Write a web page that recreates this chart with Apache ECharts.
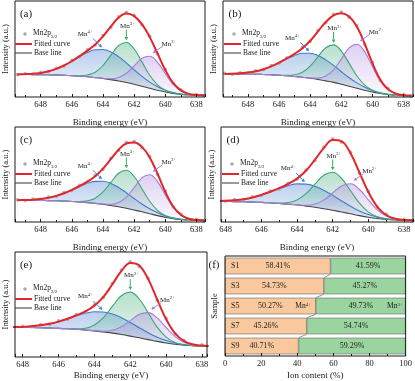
<!DOCTYPE html>
<html><head><meta charset="utf-8">
<script src="https://cdn.jsdelivr.net/npm/echarts@6/dist/echarts.min.js"></script>
<style>html,body{margin:0;padding:0;background:#fff}#c{width:415px;height:381px}</style>
</head><body><div id="c"></div>
<script>
// ---------- data ----------
const energy = [649.5,649,648.5,648,647.5,647,646.5,646,645.5,645,644.5,644,643.5,643,642.5,642,641.5,641,640.5,640,639.5,639,638.5,638,637.5];
const energyTicks = [648,646,644,642,640,638];

// (a)  components are heights above the base line
const baseA = [22.5,22.5,22.4,22.3,22.2,22.0,21.7,21.3,20.8,20.2,19.4,18.5,17.3,16.0,14.5,12.7,10.8,8.8,6.8,5.0,3.6,2.6,2.0,1.8,1.7];
const mn4A = [0.1,0.4,0.9,1.8,3.5,6.1,9.8,14.5,19.7,24.4,27.8,29,27.8,24.4,19.7,14.5,9.8,6.1,3.5,1.8,0.9,0.4,0.1,0,0];
const mn3A = [0,0,0,0,0,0,0,0.1,0.4,1.8,5.4,13,24.3,35.3,40,35.3,24.3,13,5.4,1.8,0.4,0.1,0,0,0];
const mn2A = [0,0,0,0,0,0,0,0,0,0,0,0.2,1.0,3.5,9.2,18.4,27.9,32,27.9,18.4,9.2,3.5,1.0,0.2,0];
const fitA = [22.6,22.9,23.3,24.1,25.7,28.1,31.5,35.9,40.9,46.4,52.6,60.7,70.4,79.2,83.4,80.9,72.8,59.9,43.6,27.0,14.1,6.6,3.1,2.0,1.7];
const dataA = [22.4,23.3,22.8,24.6,25.2,28.8,31.0,36.6,40.2,47.1,52.0,61.5,69.6,80.3,84.6,81.8,72.0,60.8,43.0,27.8,13.5,7.3,2.6,2.5,1.2];
// (b)
const baseB = [23,23,22.9,22.8,22.7,22.5,22.2,21.8,21.2,20.5,19.7,18.7,17.5,16.1,14.6,12.8,10.8,8.8,6.8,5.0,3.5,2.5,1.8,1.5,1.4];
const mn4B = [0.1,0.3,0.8,1.6,3.0,5.3,8.5,12.5,17.0,21.0,24.0,25,24.0,21.0,17.0,12.5,8.5,5.3,3.0,1.6,0.8,0.3,0.1,0,0];
const mn3B = [0,0,0,0,0,0,0,0.1,0.4,1.7,5.1,12.2,22.8,33.1,37.5,33.1,22.8,12.2,5.1,1.7,0.4,0.1,0,0,0];
const mn2B = [0,0,0,0,0,0,0,0,0,0,0,0.3,1.4,4.8,12.6,25.3,38.3,44,38.3,25.3,12.6,4.8,1.4,0.3,0];
const fitB = [23.1,23.3,23.7,24.4,25.7,27.8,30.7,34.4,38.6,43.2,48.8,56.2,65.7,75.0,81.7,83.7,80.4,70.3,53.2,33.6,17.3,7.7,3.3,1.8,1.4];
const dataB = [23.6,22.8,24.2,23.9,26.3,27.2,31.4,33.8,39.3,42.5,49.6,55.5,66.5,74.2,82.8,85.0,79.6,71.2,52.4,34.5,16.5,8.4,2.7,2.4,0.9];
// (c)
const baseC = [21.7,21.7,21.6,21.5,21.4,21.2,20.9,20.5,20.0,19.4,18.6,17.7,16.5,15.2,13.7,12.0,10.2,8.3,6.4,4.7,3.4,2.5,1.9,1.7,1.6];
const mn4C = [0.1,0.3,0.7,1.4,2.8,4.9,7.8,11.5,15.6,19.3,22.0,23,22.0,19.3,15.6,11.5,7.8,4.9,2.8,1.4,0.7,0.3,0.1,0,0];
const mn3C = [0,0,0,0,0,0,0,0.1,0.4,1.7,5.1,12.4,23.1,33.5,38,33.5,23.1,12.4,5.1,1.7,0.4,0.1,0,0,0];
const mn2C = [0,0,0,0,0,0,0,0,0,0,0,0.3,1.2,4.3,11.2,22.4,34.0,39,34.0,22.4,11.2,4.3,1.2,0.3,0];
const fitC = [21.8,22.0,22.3,22.9,24.2,26.1,28.7,32.1,36.0,40.4,45.7,53.4,62.8,72.3,78.5,79.4,75.1,64.6,48.3,30.2,15.7,7.2,3.2,2.0,1.6];
const dataC = [22.3,21.4,22.9,22.4,24.9,25.5,29.4,31.5,36.8,39.7,46.5,52.6,63.7,71.5,79.8,80.6,74.2,65.5,47.5,31.0,15.0,8.0,2.5,2.7,0.9];
// (d)
const baseD = [20.7,20.7,20.6,20.5,20.4,20.2,19.9,19.6,19.1,18.5,17.8,17.0,15.9,14.7,13.3,11.7,10.0,8.2,6.4,4.8,3.5,2.6,2.0,1.8,1.7];
const mn4D = [0,0.1,0.3,0.7,1.4,2.6,4.6,7.5,11.0,14.9,18.5,21.1,22,21.1,18.5,14.9,11.0,7.5,4.6,2.6,1.4,0.7,0.3,0.1,0];
const mn3D = [0,0,0,0,0,0,0,0,0.1,0.4,1.7,5.1,12.4,23.1,33.5,38,33.5,23.1,12.4,5.1,1.7,0.4,0.1,0,0];
const mn2D = [0,0,0,0,0,0,0,0,0,0,0,0.2,0.9,3.3,8.6,17.3,26.1,30,26.1,17.3,8.6,3.3,0.9,0.2,0];
const fitD = [20.7,20.8,20.9,21.2,21.8,22.8,24.5,27.1,30.2,33.8,38.0,43.4,51.2,62.2,73.9,81.9,80.6,68.8,49.5,29.8,15.2,7.0,3.3,2.1,1.7];
const dataD = [21.2,20.3,21.5,20.7,22.4,22.2,25.2,26.5,30.9,33.1,38.8,42.7,52.0,61.5,75.0,83.2,79.7,69.6,48.7,30.6,14.5,7.7,2.6,2.8,1.0];
// (e)
const baseE = [29.7,29.7,29.6,29.5,29.5,29.3,29.0,28.6,28.2,27.7,26.9,26.1,25.0,23.9,22.5,20.9,19.2,17.4,15.6,14.0,12.7,11.8,11.3,11.1,11.0];
const mn4E = [0,0.1,0.3,0.6,1.3,2.4,4.2,6.8,10.0,13.6,16.8,19.2,20,19.2,16.8,13.6,10.0,6.8,4.2,2.4,1.3,0.6,0.3,0.1,0];
const mn3E = [0,0,0,0,0,0,0,0,0.1,0.5,1.9,5.9,14.3,26.7,38.8,44,38.8,26.7,14.3,5.9,1.9,0.5,0.1,0,0];
const mn2E = [0,0,0,0,0,0,0,0,0,0,0,0.2,0.8,2.9,7.7,15.5,23.5,27,23.5,15.5,7.7,2.9,0.8,0.2,0];
const fitE = [29.7,29.8,29.9,30.1,30.8,31.7,33.2,35.4,38.3,41.8,45.6,51.4,60.1,72.7,85.8,94.0,91.5,77.9,57.6,37.8,23.6,15.8,12.5,11.4,11.0];
const dataE = [29.2,30.4,29.3,30.7,30.2,32.4,32.6,36.1,37.6,42.5,45.0,52.2,59.4,73.5,86.9,95.2,90.6,78.7,56.8,38.6,22.9,16.5,11.8,12.1,10.3];
// (f)
const samples = ['S1','S3','S5','S7','S9'];
const mn4Content = [58.41,54.73,50.27,45.26,40.71];
const mn3Content = [41.59,45.27,49.73,54.74,59.29];
const ionTicks = [0,20,40,60,80,100];

// ---------- styling ----------
const FONT = '"Liberation Serif","Times New Roman",serif';
const C = {fit:'#e3262b', base:'#454545', pts:'#ababab', ink:'#1a1a1a',
  comp:['#3f79cf','#3aa874','#a67ddc'], bar4:'#f9c89c', bar3:'#9ad5a0'};
const compNames = [['Mn','4+'],['Mn','3+'],['Mn','2+']];
const panels = [
  {g:{left:14,top:1,width:191,height:96}, xr:[637.45,649.65], ymax:96, base:baseA, comps:[mn4A,mn3A,mn2A], fit:fitA, pts:dataA, tag:'(a)', leg:33, gap:21},
  {g:{left:223,top:1,width:190,height:96}, xr:[637.4,649.6], ymax:96, base:baseB, comps:[mn4B,mn3B,mn2B], fit:fitB, pts:dataB, tag:'(b)', leg:33, gap:21},
  {g:{left:14,top:127,width:191,height:95}, xr:[637.45,649.65], ymax:95, base:baseC, comps:[mn4C,mn3C,mn2C], fit:fitC, pts:dataC, tag:'(c)', leg:37, gap:21},
  {g:{left:221,top:127,width:192,height:95}, xr:[637.5,648.26], ymax:95, base:baseD, comps:[mn4D,mn3D,mn2D], fit:fitD, pts:dataD, tag:'(d)', leg:37, gap:21},
  {g:{left:14,top:252,width:193,height:105}, xr:[637.72,648.43], ymax:105, base:baseE, comps:[mn4E,mn3E,mn2E], fit:fitE, pts:dataE, tag:'(e)', leg:37, gap:14}
];
function rgba(hex,a){const n=parseInt(hex.slice(1),16);return `rgba(${n>>16},${(n>>8)&255},${n&255},${a})`;}
function grad(hex){return new echarts.graphic.LinearGradient(0,0,0,1,[{offset:0,color:rgba(hex,0.36)},{offset:1,color:rgba(hex,0.04)}]);}

const grids=[], xAxes=[], yAxes=[], series=[];
panels.forEach((p,i)=>{
  grids.push(Object.assign({show:true,borderColor:C.ink,borderWidth:1,backgroundColor:'transparent',z:10,containLabel:false},p.g));
  xAxes.push({gridIndex:i,type:'value',min:p.xr[0],max:p.xr[1],inverse:true,z:10,splitNumber:5,
    name:'Binding energy (eV)',nameLocation:'middle',nameGap:p.gap,
    nameTextStyle:{fontFamily:FONT,fontSize:9,color:C.ink},
    axisLine:{show:false},splitLine:{show:false},
    axisTick:{show:true,inside:true,length:3,lineStyle:{color:C.ink}},
    minorTick:{show:true,splitNumber:2,length:2,lineStyle:{color:C.ink}},
    axisLabel:{margin:3,fontFamily:FONT,fontSize:8.5,color:C.ink,showMinLabel:false,showMaxLabel:false,
      formatter:v=>energyTicks.indexOf(Math.round(v*1000)/1000)>=0?String(Math.round(v)):''}});
  yAxes.push({gridIndex:i,type:'value',min:0,max:p.ymax,
    axisLine:{show:false},axisTick:{show:false},axisLabel:{show:false},splitLine:{show:false},
    name:'Intensity (a.u.)',nameLocation:'middle',nameGap:5,
    nameTextStyle:{fontFamily:FONT,fontSize:8.5,color:C.ink}});
  const ax={xAxisIndex:i,yAxisIndex:i,silent:true,animation:false};
  const xy = arr=>energy.map((x,k)=>[x,arr[k]]);
  const onBase = c=>energy.map((x,k)=>[x,+(p.base[k]+c[k]).toFixed(2)]);
  p.comps.forEach((c,j)=>{
    series.push(Object.assign({type:'line',data:onBase(c),smooth:0.4,symbol:'none',
      lineStyle:{width:0,opacity:0},areaStyle:{color:grad(C.comp[j]),opacity:1},z:1},ax));
  });
  series.push(Object.assign({type:'line',data:xy(p.base),smooth:0.4,symbol:'none',
    lineStyle:{width:0,opacity:0},areaStyle:{color:'#ffffff',opacity:1},z:2},ax));
  series.push(Object.assign({type:'line',data:xy(p.base),smooth:0.4,symbol:'none',
    lineStyle:{width:1.1,color:C.base},z:3},ax));
  p.comps.forEach((c,j)=>{
    series.push(Object.assign({type:'line',data:onBase(c),smooth:0.4,symbol:'none',
      lineStyle:{width:1.1,color:C.comp[j]},z:3},ax));
  });
  series.push(Object.assign({type:'scatter',data:xy(p.pts),symbol:'circle',symbolSize:3.6,
    itemStyle:{color:C.pts,opacity:0.9},z:4},ax));
  series.push(Object.assign({type:'line',data:xy(p.fit),smooth:0.4,symbol:'none',
    lineStyle:{width:2,color:C.fit},z:5},ax));
});

// ---- panel (f)
const fi = panels.length;
grids.push({left:225,top:256,width:182,height:100,show:true,borderColor:C.ink,borderWidth:1,backgroundColor:'transparent',z:10});
xAxes.push({gridIndex:fi,type:'value',min:0,max:100,interval:20,z:10,
  name:'Ion content (%)',nameLocation:'middle',nameGap:15,
  nameTextStyle:{fontFamily:FONT,fontSize:9,color:C.ink},
  axisLine:{show:false},splitLine:{show:false},
  axisTick:{show:true,inside:true,length:3,lineStyle:{color:C.ink}},
  minorTick:{show:true,splitNumber:2,length:2,lineStyle:{color:C.ink}},
  axisLabel:{margin:3,fontFamily:FONT,fontSize:8.5,color:C.ink,formatter:v=>ionTicks.indexOf(v)>=0?String(v):''}});
yAxes.push({gridIndex:fi,type:'category',data:samples,inverse:true,z:10,
  axisLine:{show:false},axisTick:{show:false},splitLine:{show:false},
  axisLabel:{inside:true,margin:6,fontFamily:FONT,fontSize:8,color:C.ink},
  name:'Sample',nameLocation:'middle',nameGap:6,nameTextStyle:{fontFamily:FONT,fontSize:8.5,color:C.ink}});
const barLabel = {show:true,position:'inside',fontFamily:FONT,fontSize:8,color:'#222',formatter:q=>q.value.toFixed(2)+'%'};
const GAPF = 0.17;
series.push({type:'bar',xAxisIndex:fi,yAxisIndex:fi,stack:'ion',data:mn4Content,barCategoryGap:(GAPF*100)+'%',
  itemStyle:{color:C.bar4,borderColor:'#6a6a6a',borderWidth:0.6},label:barLabel,silent:true,animation:false,z:2});
series.push({type:'bar',xAxisIndex:fi,yAxisIndex:fi,stack:'ion',data:mn3Content,barCategoryGap:(GAPF*100)+'%',
  itemStyle:{color:C.bar3,borderColor:'#6a6a6a',borderWidth:0.6},label:barLabel,silent:true,animation:false,z:2});

const chart = echarts.init(document.getElementById('c'));
chart.setOption({animation:false,grid:grids,xAxis:xAxes,yAxis:yAxes,series:series});

// ---------- annotations (legends, tags, arrows, connectors) ----------
const G=[];
function supText(base,sup,x,y,align,size){
  size=size||7;
  return {type:'text',x:x,y:y,z:100,silent:true,style:{text:`{m|${base}}{s|${sup}}`,align:align||'center',verticalAlign:'middle',
    rich:{m:{fontFamily:FONT,fontSize:size,fill:C.ink,verticalAlign:'bottom',lineHeight:size+1},
          s:{fontFamily:FONT,fontSize:size*0.65,fill:C.ink,verticalAlign:'top',lineHeight:size+1}}}};
}
function arrow(x1,y1,x2,y2,col){
  const dx=x2-x1,dy=y2-y1,L=Math.hypot(dx,dy),ux=dx/L,uy=dy/L,h=3.4,w=1.8;
  const bx=x2-ux*h,by=y2-uy*h;
  G.push({type:'line',z:100,silent:true,shape:{x1:x1,y1:y1,x2:bx,y2:by},style:{stroke:col,lineWidth:1}});
  G.push({type:'polygon',z:100,silent:true,shape:{points:[[x2,y2],[bx-uy*w,by+ux*w],[bx+uy*w,by-ux*w]]},style:{fill:col}});
}
const ann = [
  {t:[-18,-16],a0:[-10,-11],a1:[-1,-2]},
  {t:[1,-17],a0:[0,-13],a1:[0,-2]},
  {t:[19,-13],a0:[13,-10],a1:[3,-3]}
];
panels.forEach((p,i)=>{
  const L=p.g.left,T=p.g.top;
  G.push({type:'text',x:L+12,y:T+13,z:100,silent:true,style:{text:p.tag,fontFamily:FONT,fontSize:11,fill:C.ink,align:'center',verticalAlign:'middle'}});
  const ly=T+p.leg;
  G.push({type:'circle',z:100,silent:true,shape:{cx:L+11,cy:ly,r:1.8},style:{fill:C.pts}});
  G.push({type:'text',x:L+19,y:ly,z:100,silent:true,style:{text:'{m|Mn2p}{s|3/2}',align:'left',verticalAlign:'middle',
    rich:{m:{fontFamily:FONT,fontSize:7.5,fill:C.ink,verticalAlign:'top',lineHeight:10},s:{fontFamily:FONT,fontSize:5,fill:C.ink,verticalAlign:'bottom',lineHeight:10}}}});
  G.push({type:'line',z:100,silent:true,shape:{x1:L+1,y1:ly+10,x2:L+18,y2:ly+10},style:{stroke:C.fit,lineWidth:2}});
  G.push({type:'text',x:L+20,y:ly+10,z:100,silent:true,style:{text:'Fitted curve',fontFamily:FONT,fontSize:7.5,fill:C.ink,align:'left',verticalAlign:'middle'}});
  G.push({type:'line',z:100,silent:true,shape:{x1:L+1,y1:ly+19,x2:L+18,y2:ly+19},style:{stroke:C.base,lineWidth:1.1}});
  G.push({type:'text',x:L+20,y:ly+19,z:100,silent:true,style:{text:'Base line',fontFamily:FONT,fontSize:7.5,fill:C.ink,align:'left',verticalAlign:'middle'}});
  p.comps.forEach((c,j)=>{
    let k=0; c.forEach((v,n)=>{if(v>c[k])k=n;});
    const P=chart.convertToPixel({xAxisIndex:i,yAxisIndex:i},[energy[k],p.base[k]+c[k]]);
    const a=ann[j];
    G.push(supText(compNames[j][0],compNames[j][1],P[0]+a.t[0],P[1]+a.t[1]));
    arrow(P[0]+a.a0[0],P[1]+a.a0[1],P[0]+a.a1[0],P[1]+a.a1[1],C.comp[j]);
  });
});
// panel (f): tag, connectors between the Mn4+/Mn3+ boundaries, ion labels
G.push({type:'text',x:214,y:265,z:100,silent:true,style:{text:'(f)',fontFamily:FONT,fontSize:11,fill:C.ink,align:'center',verticalAlign:'middle'}});
const band = 100/samples.length, halfPx = band*(1-GAPF)/2;
mn4Content.slice(0,-1).forEach((v,k)=>{
  const A=chart.convertToPixel({xAxisIndex:fi,yAxisIndex:fi},[v,samples[k]]);
  const B=chart.convertToPixel({xAxisIndex:fi,yAxisIndex:fi},[mn4Content[k+1],samples[k+1]]);
  G.push({type:'line',z:50,silent:true,shape:{x1:A[0],y1:A[1]+halfPx,x2:B[0],y2:B[1]-halfPx},style:{stroke:'#7a7a7a',lineWidth:0.8}});
});
const p4=chart.convertToPixel({xAxisIndex:fi,yAxisIndex:fi},[mn4Content[2],samples[2]]);
G.push(supText('Mn','4+',p4[0]-5,p4[1],'right',7.5));
const p3=chart.convertToPixel({xAxisIndex:fi,yAxisIndex:fi},[100,samples[2]]);
G.push(supText('Mn','3+',p3[0]-3,p3[1],'right',7.5));
chart.setOption({graphic:G});
</script></body></html>
